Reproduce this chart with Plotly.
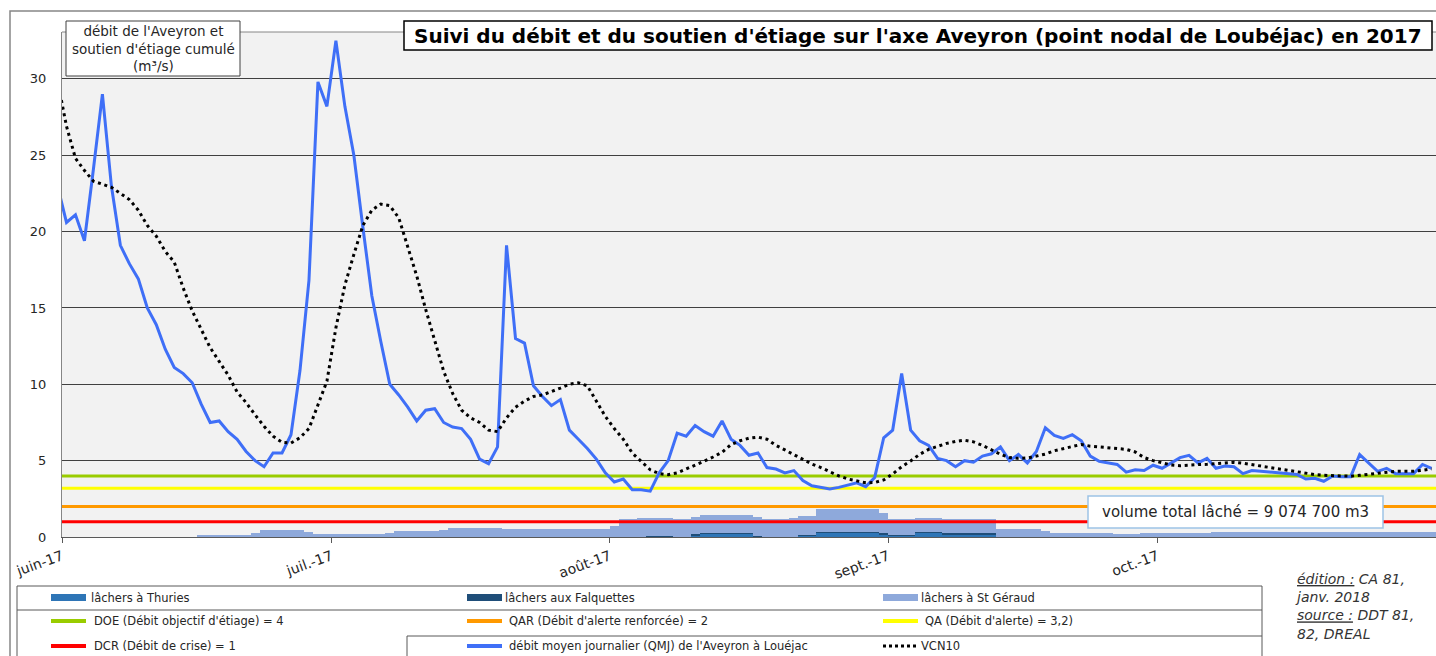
import pandas as pd
import plotly.graph_objects as go

# ---------------- DATA ----------------
start_day = "2017-05-31"
end_day = "2017-10-31"

# débit moyen journalier (QMJ) de l'Aveyron à Loubéjac (m3/s), 31 mai -> 31 oct.
qmj = [
    23.0,
    20.6, 21.1, 19.4, 24.1, 29.0, 23.0, 19.1, 17.9, 16.9, 15.0,
    13.9, 12.3, 11.1, 10.7, 10.1, 8.7, 7.5, 7.6, 6.9, 6.4,
    5.6, 5.0, 4.6, 5.5, 5.5, 6.7, 10.9, 16.8, 29.8, 28.2,
    32.5, 28.2, 25.0, 20.3, 15.8, 12.8, 10.0, 9.3, 8.5, 7.6,
    8.3, 8.4, 7.5, 7.2, 7.1, 6.4, 5.1, 4.8, 5.9, 19.1,
    13.0, 12.7, 9.9, 9.2, 8.6, 9.0, 7.0, 6.4, 5.8, 5.1,
    4.2, 3.6, 3.8, 3.1, 3.1, 3.0, 4.2, 5.0, 6.8, 6.6,
    7.3, 6.9, 6.6, 7.6, 6.4, 6.0, 5.35, 5.5, 4.55, 4.45,
    4.2, 4.35, 3.7, 3.35, 3.25, 3.15, 3.25, 3.4, 3.55, 3.3,
    3.9, 6.5, 7.0, 10.7, 7.0, 6.3, 6.0, 5.15, 5.0, 4.6,
    5.0, 4.9, 5.3, 5.45, 5.9, 5.0, 5.4, 4.85, 5.6, 7.15,
    6.65, 6.45, 6.7, 6.3, 5.3, 4.95, 4.85, 4.75, 4.25, 4.4,
    4.35, 4.7, 4.5, 4.85, 5.2, 5.35, 4.85, 5.15, 4.5, 4.65,
    4.6, 4.15, 4.35, 4.3, 4.25, 4.2, 4.15, 4.1, 3.8, 3.85,
    3.65, 4.0, 3.95, 3.95, 5.4, 4.85, 4.3, 4.5, 4.15, 4.15,
    4.15, 4.75, 4.5,
]

# VCN10 (m3/s)
vcn10 = [
    29.9,
    26.9, 24.8, 24.0, 23.3, 23.1, 22.9, 22.5, 22.1, 21.4, 20.4,
    19.7, 18.7, 18.0, 16.3, 14.8, 13.6, 12.4, 11.5, 10.6, 9.5,
    8.8, 8.0, 7.25, 6.6, 6.2, 6.15, 6.5, 7.1, 8.7, 10.2,
    13.7, 16.5, 18.5, 20.4, 21.4, 21.8, 21.7, 20.9, 19.0, 17.1,
    14.9, 12.8, 10.85, 9.4, 8.3, 7.8, 7.5, 7.0, 6.9, 7.8,
    8.5, 8.9, 9.2, 9.3, 9.5, 9.75, 10.0, 10.1, 9.9, 8.9,
    7.9, 7.1, 6.4, 5.5, 4.95, 4.4, 4.15, 4.08, 4.2, 4.45,
    4.67, 4.96, 5.24, 5.55, 6.05, 6.3, 6.47, 6.54, 6.4, 6.0,
    5.7, 5.4, 5.13, 4.78, 4.55, 4.26, 4.0, 3.8, 3.66, 3.55,
    3.57, 3.74, 4.13, 4.6, 4.98, 5.41, 5.74, 5.95, 6.13, 6.26,
    6.34, 6.23, 6.0, 5.71, 5.41, 5.2, 5.15, 5.17, 5.28, 5.43,
    5.65, 5.8, 5.95, 6.06, 5.95, 5.9, 5.85, 5.8, 5.74, 5.57,
    5.2, 5.0, 4.87, 4.72, 4.67, 4.72, 4.74, 4.76, 4.8, 4.87,
    4.89, 4.83, 4.74, 4.65, 4.57, 4.48, 4.39, 4.28, 4.17, 4.09,
    4.04, 4.02, 4.0, 3.98, 4.04, 4.11, 4.17, 4.24, 4.3, 4.3,
    4.3, 4.37, 4.46,
]

# lâchers à Thuries (m3/s)
thuries = [
    0,
    0, 0, 0, 0, 0, 0, 0, 0, 0, 0,
    0, 0, 0, 0, 0, 0, 0, 0, 0, 0,
    0, 0, 0, 0, 0, 0, 0, 0, 0, 0,
    0, 0, 0, 0, 0, 0, 0, 0, 0, 0,
    0, 0, 0, 0, 0, 0, 0, 0, 0, 0,
    0, 0, 0, 0, 0, 0, 0, 0, 0, 0,
    0, 0, 0, 0, 0, 0, 0, 0, 0, 0,
    0.12, 0.22, 0.22, 0.22, 0.22, 0.22, 0.22, 0.05, 0, 0,
    0, 0, 0.10, 0.10, 0.28, 0.28, 0.28, 0.28, 0.28, 0.28,
    0.28, 0.18, 0.08, 0.08, 0.08, 0.28, 0.28, 0.28, 0.18, 0.18,
    0.18, 0.18, 0.18, 0.18, 0, 0, 0, 0, 0, 0,
    0, 0, 0, 0, 0, 0, 0, 0, 0, 0,
    0, 0, 0, 0, 0, 0, 0, 0, 0, 0,
    0, 0, 0, 0, 0, 0, 0, 0, 0, 0,
    0, 0, 0, 0, 0, 0, 0, 0, 0, 0,
    0, 0, 0,
]

# lâchers aux Falquettes (m3/s)
falquettes = [
    0,
    0, 0, 0, 0, 0, 0, 0, 0, 0, 0,
    0, 0, 0, 0, 0, 0, 0, 0, 0, 0,
    0, 0, 0, 0, 0, 0, 0, 0, 0, 0,
    0, 0, 0, 0, 0, 0, 0, 0, 0, 0,
    0, 0, 0, 0, 0, 0, 0, 0, 0, 0,
    0, 0, 0, 0, 0, 0, 0, 0, 0, 0,
    0, 0, 0, 0, 0, 0.07, 0.07, 0.07, 0, 0,
    0.05, 0.05, 0.05, 0.05, 0.05, 0.05, 0.05, 0.03, 0, 0,
    0, 0, 0.03, 0.03, 0.07, 0.07, 0.07, 0.07, 0.07, 0.07,
    0.07, 0.06, 0.05, 0.05, 0.05, 0.07, 0.07, 0.07, 0.06, 0.06,
    0.06, 0.06, 0.06, 0.06, 0, 0, 0, 0, 0, 0,
    0, 0, 0, 0, 0, 0, 0, 0, 0, 0,
    0, 0, 0, 0, 0, 0, 0, 0, 0, 0,
    0, 0, 0, 0, 0, 0, 0, 0, 0, 0,
    0, 0, 0, 0, 0, 0, 0, 0, 0, 0,
    0, 0, 0,
]

# lâchers à St Géraud (m3/s)
st_geraud = [
    0,
    0, 0, 0, 0, 0, 0, 0, 0, 0, 0,
    0, 0, 0, 0, 0, 0.11, 0.11, 0.11, 0.11, 0.11,
    0.11, 0.24, 0.48, 0.48, 0.48, 0.48, 0.48, 0.31, 0.17, 0.17,
    0.17, 0.17, 0.17, 0.17, 0.17, 0.17, 0.24, 0.37, 0.37, 0.37,
    0.37, 0.37, 0.43, 0.56, 0.56, 0.56, 0.56, 0.56, 0.60, 0.53,
    0.53, 0.53, 0.53, 0.53, 0.53, 0.53, 0.53, 0.53, 0.53, 0.53,
    0.53, 0.72, 1.18, 1.18, 1.23, 1.16, 1.16, 1.16, 1.17, 1.17,
    1.16, 1.20, 1.20, 1.20, 1.20, 1.20, 1.20, 1.21, 1.16, 1.16,
    1.16, 1.22, 1.25, 1.25, 1.46, 1.46, 1.46, 1.46, 1.46, 1.46,
    1.46, 1.35, 1.03, 1.03, 1.03, 0.87, 0.87, 0.87, 0.92, 0.92,
    0.92, 0.92, 0.92, 0.92, 0.52, 0.52, 0.52, 0.52, 0.52, 0.39,
    0.24, 0.24, 0.24, 0.24, 0.24, 0.24, 0.24, 0.20, 0.20, 0.20,
    0.28, 0.28, 0.28, 0.28, 0.24, 0.24, 0.24, 0.24, 0.35, 0.35,
    0.35, 0.35, 0.35, 0.35, 0.35, 0.35, 0.35, 0.35, 0.35, 0.35,
    0.35, 0.35, 0.35, 0.35, 0.35, 0.35, 0.35, 0.35, 0.35, 0.35,
    0.35, 0.35, 0.35,
]

# seuils (m3/s)
DOE = 4
QA = 3.2
QAR = 2
DCR = 1

month_ticks = ["2017-06-01", "2017-07-01", "2017-08-01", "2017-09-01", "2017-10-01"]
month_labels = ["juin-17", "juil.-17", "août-17", "sept.-17", "oct.-17"]
y_ticks = [0, 5, 10, 15, 20, 25, 30]

title_text = "Suivi du débit et du soutien d'étiage sur l'axe Aveyron (point nodal de Loubéjac) en 2017"
ytitle_text = "débit de l'Aveyron et<br>soutien d'étiage cumulé<br>(m³/s)"
volume_text = "volume total lâché = 9 074 700 m3"
note_text = "<u>édition :</u> CA 81,<br>janv. 2018<br><u>source :</u> DDT 81,<br>82, DREAL"

# ---------------- STYLE ----------------
C_THURIES = "#2E75B6"
C_FALQ = "#1F4E79"
C_STG = "#8EA9DB"
C_DOE = "#99CC00"
C_QA = "#FFFF00"
C_QAR = "#FF9900"
C_DCR = "#FF0000"
C_QMJ = "#3F6FF7"
FONT = "DejaVu Sans"

W, H = 1436, 656
ML, MR, MT, MB = 62, 0, 32, 119
PW = W - ML - MR
PH = H - MT - MB


def X(px):
    return (px - ML) / PW


def Y(py):
    return (H - MB - py) / PH


days = pd.date_range(start_day, end_day, freq="D") + pd.Timedelta(hours=12)
x_range = ["2017-06-01", "2017-11-01"]

fig = go.Figure()

for name, vals, col in [("lâchers à Thuries", thuries, C_THURIES),
                        ("lâchers aux Falquettes", falquettes, C_FALQ),
                        ("lâchers à St Géraud", st_geraud, C_STG)]:
    fig.add_trace(go.Bar(x=days, y=vals, name=name, marker=dict(color=col, line=dict(width=0)),
                         showlegend=False))

for name, val, col in [("DOE", DOE, C_DOE), ("QA", QA, C_QA), ("QAR", QAR, C_QAR), ("DCR", DCR, C_DCR)]:
    fig.add_trace(go.Scatter(x=x_range, y=[val, val], mode="lines", name=name,
                             line=dict(color=col, width=3), showlegend=False))

fig.add_trace(go.Scatter(x=days, y=qmj, mode="lines", name="QMJ",
                         line=dict(color=C_QMJ, width=3), showlegend=False))
fig.add_trace(go.Scatter(x=days, y=vcn10, mode="lines", name="VCN10",
                         line=dict(color="#000000", width=3, dash="3px,3.7px"), showlegend=False))

shapes = []
annotations = []

# outer chart frame
shapes.append(dict(type="rect", xref="paper", yref="paper", x0=X(10), y0=Y(11), x1=X(1470), y1=Y(700),
                   line=dict(color="#868686", width=1.5), fillcolor="rgba(0,0,0,0)", layer="above"))
# plot top border
shapes.append(dict(type="line", xref="paper", yref="paper", x0=0, y0=1, x1=1, y1=1,
                   line=dict(color="#868686", width=1), layer="above"))
# y title box
shapes.append(dict(type="rect", xref="paper", yref="paper", x0=X(66), y0=Y(21), x1=X(240), y1=Y(76),
                   line=dict(color="#404040", width=1), fillcolor="white", layer="above"))
annotations.append(dict(xref="paper", yref="paper", x=X(153), y=Y(48.5), text=ytitle_text,
                        showarrow=False, xanchor="center", yanchor="middle",
                        font=dict(family=FONT, size=13.5, color="#262626")))
# title box
shapes.append(dict(type="rect", xref="paper", yref="paper", x0=X(404), y0=Y(21), x1=X(1432), y1=Y(50),
                   line=dict(color="#000000", width=1.5), fillcolor="white", layer="above"))
annotations.append(dict(xref="paper", yref="paper", x=X(918), y=Y(36), text="<b>" + title_text + "</b>",
                        showarrow=False, xanchor="center", yanchor="middle",
                        font=dict(family=FONT, size=20, color="#000000")))
# volume box
shapes.append(dict(type="rect", xref="paper", yref="paper", x0=X(1088), y0=Y(496), x1=X(1383), y1=Y(528),
                   line=dict(color="#9DC3E6", width=1.5), fillcolor="white", layer="above"))
annotations.append(dict(xref="paper", yref="paper", x=X(1235.5), y=Y(512), text=volume_text,
                        showarrow=False, xanchor="center", yanchor="middle",
                        font=dict(family=FONT, size=15, color="#262626")))

# legend frame
LG = "#595959"
shapes.append(dict(type="rect", xref="paper", yref="paper", x0=X(17), y0=Y(586), x1=X(1262), y1=Y(700),
                   line=dict(color=LG, width=1), fillcolor="rgba(0,0,0,0)", layer="above"))
shapes.append(dict(type="line", xref="paper", yref="paper", x0=X(17), y0=Y(610), x1=X(1262), y1=Y(610),
                   line=dict(color=LG, width=1), layer="above"))
shapes.append(dict(type="line", xref="paper", yref="paper", x0=X(407), y0=Y(636), x1=X(1262), y1=Y(636),
                   line=dict(color=LG, width=1), layer="above"))
shapes.append(dict(type="line", xref="paper", yref="paper", x0=X(407), y0=Y(636), x1=X(407), y1=Y(700),
                   line=dict(color=LG, width=1), layer="above"))

col_x = [51, 467, 883]
row_y = [597.5, 621, 646]
legend_items = [
    ("rect", C_THURIES, None, "lâchers à Thuries", 0, 0, 89),
    ("rect", C_FALQ, None, "lâchers aux Falquettes", 1, 0, 503),
    ("rect", C_STG, None, "lâchers à St Géraud", 2, 0, 919),
    ("line", C_DOE, None, "DOE (Débit objectif d'étiage) = 4", 0, 1, 92),
    ("line", C_QAR, None, "QAR (Débit d'alerte renforcée) = 2", 1, 1, 507),
    ("line", C_QA, None, "QA (Débit d'alerte) = 3,2)", 2, 1, 923),
    ("line", C_DCR, None, "DCR (Débit de crise) = 1", 0, 2, 92),
    ("line", C_QMJ, None, "débit moyen journalier (QMJ) de l'Aveyron à Louéjac", 1, 2, 507),
    ("line", "#000000", "dot", "VCN10", 2, 2, 919),
]
for kind, col, dash, label, ci, ri, tx in legend_items:
    x0 = col_x[ci]
    yc = row_y[ri]
    if kind == "rect":
        shapes.append(dict(type="rect", xref="paper", yref="paper", x0=X(x0), y0=Y(yc - 3.5),
                           x1=X(x0 + 35), y1=Y(yc + 3.5), line=dict(width=0), fillcolor=col, layer="above"))
    else:
        ln = dict(color=col, width=3 if dash else 4)
        if dash:
            ln["dash"] = "dot"
        shapes.append(dict(type="line", xref="paper", yref="paper", x0=X(x0), y0=Y(yc),
                           x1=X(x0 + 35), y1=Y(yc), line=ln, layer="above"))
    annotations.append(dict(xref="paper", yref="paper", x=X(tx), y=Y(yc), text=label,
                            showarrow=False, xanchor="left", yanchor="middle",
                            font=dict(family=FONT, size=11.5, color="#262626")))

# edition / source note
annotations.append(dict(xref="paper", yref="paper", x=X(1293), y=Y(569), text="<i>" + note_text + "</i>",
                        showarrow=False, xanchor="left", yanchor="top", align="left",
                        font=dict(family=FONT, size=14, color="#333333")))

fig.update_layout(
    width=W, height=H,
    margin=dict(l=ML, r=MR, t=MT, b=MB, pad=0),
    paper_bgcolor="white", plot_bgcolor="#F2F2F2",
    barmode="stack", bargap=0,
    font=dict(family=FONT, size=13, color="#262626"),
    showlegend=False,
    shapes=shapes, annotations=annotations,
    xaxis=dict(type="date", range=x_range, tickvals=month_ticks, ticktext=month_labels,
               tickangle=-20, ticks="outside", ticklen=5, tickcolor="#595959",
               showgrid=False, showline=True, linecolor="#595959", linewidth=1,
               zeroline=False, tickfont=dict(family=FONT, size=14, color="#262626")),
    yaxis=dict(range=[0, 33.07], tickvals=y_ticks, ticks="", showgrid=True,
               gridcolor="#404040", gridwidth=1, showline=True, linecolor="#868686",
               zeroline=False, ticklabelstandoff=12,
               tickfont=dict(family=FONT, size=13, color="#262626")),
)

fig.write_html("out.html", config={"displayModeBar": False},
               post_script="document.body.style.margin='0px';document.body.style.overflow='hidden';")
